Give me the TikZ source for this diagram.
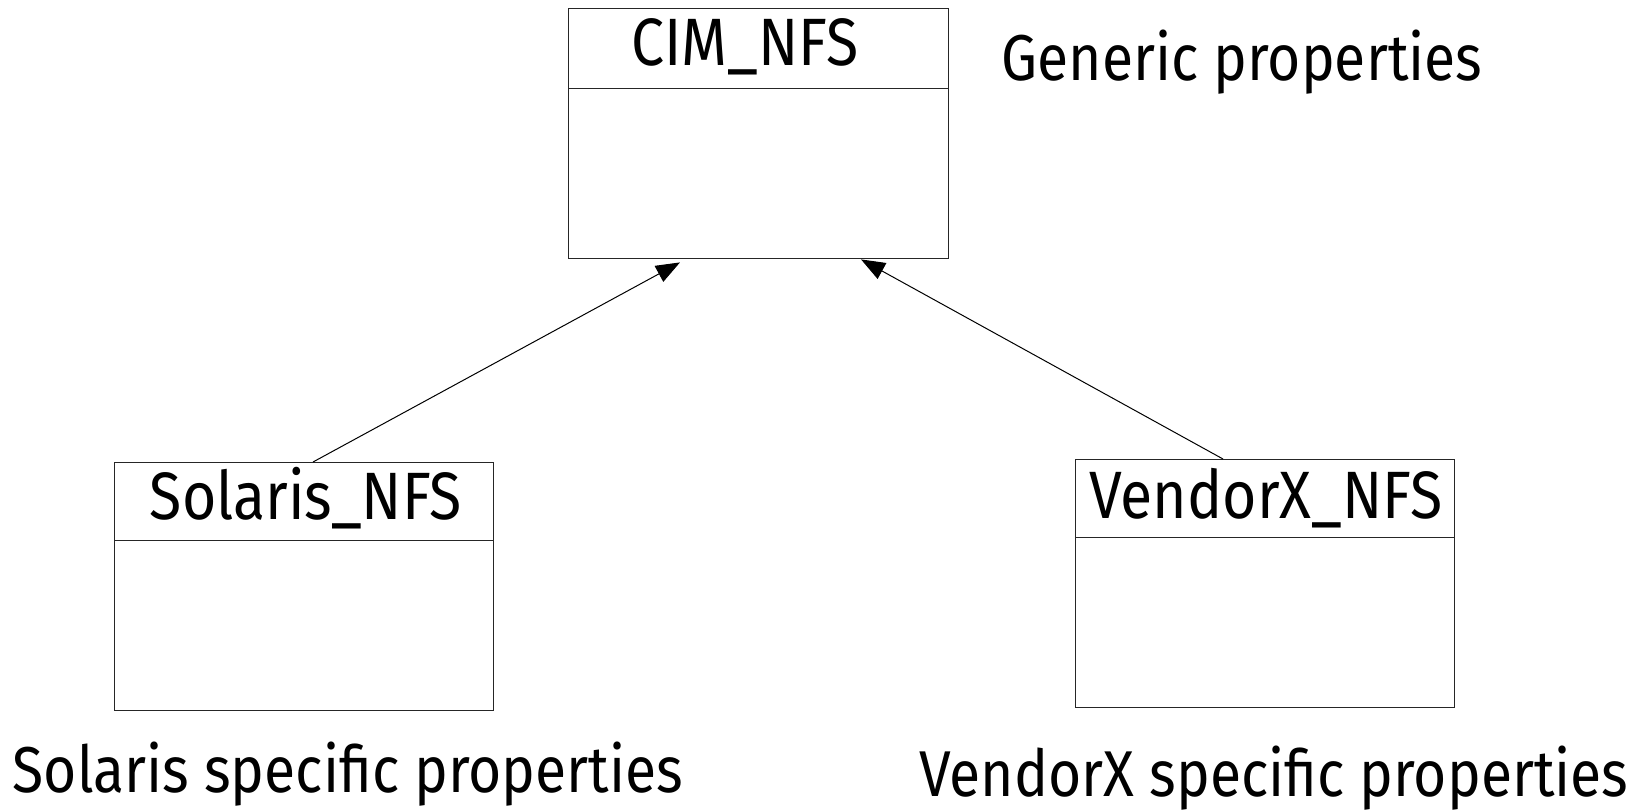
\documentclass[tikz,border=0pt]{standalone}
\usepackage{fontspec}
\setmainfont{Fira Sans}[FakeStretch=0.88]
\usetikzlibrary{calc,arrows.meta}
\begin{document}
\begin{tikzpicture}[x=0.5pt,y=-0.5pt,
  boxline/.style={draw=black!85,line width=0.7pt,rectangle,inner sep=0pt,anchor=north west},
  titletext/.style={font=\fontsize{33.5}{38}\selectfont,anchor=base,inner sep=0pt},
  labeltext/.style={font=\fontsize{32.4}{38}\selectfont,anchor=base,inner sep=0pt},
  inherit/.style={draw=black,line width=0.5pt,-{Triangle[length=12pt,width=9pt]}}]
\useasboundingbox[fill=white] (0,0) rectangle (1642,809);
% CIM_NFS
\node[boxline,minimum width=190pt,minimum height=40pt] (cimt) at (568,8) {};
\node[boxline,minimum width=190pt,minimum height=85pt] (cimb) at (568,88) {};
\node[titletext] (cimn) at (745,65) {CIM\_NFS};
\node[labeltext] (gen) at (1242,80) {Generic properties};
% Solaris_NFS
\node[boxline,minimum width=189.5pt,minimum height=39pt] (solt) at (114,462) {};
\node[boxline,minimum width=189.5pt,minimum height=85pt] (solb) at (114,540) {};
\node[titletext] (soln) at (306,519) {Solaris\_NFS};
\node[labeltext] (soll) at (348,792) {Solaris specific properties};
% VendorX_NFS
\node[boxline,minimum width=189.5pt,minimum height=39pt] (vent) at (1075,459) {};
\node[boxline,minimum width=189.5pt,minimum height=85pt] (venb) at (1075,537) {};
\node[titletext] (venn) at (1266,518) {VendorX\_NFS};
\node[labeltext] (venl) at (1274,796) {VendorX specific properties};
% inheritance arrows
\draw[inherit] ($(solt.north west)+(199,0)$) -- ($(cimb.south west)+(112,3)$);
\draw[inherit] ($(vent.north west)+(148,0)$) -- ($(cimb.south west)+(293,0)$);
\end{tikzpicture}
\end{document}
